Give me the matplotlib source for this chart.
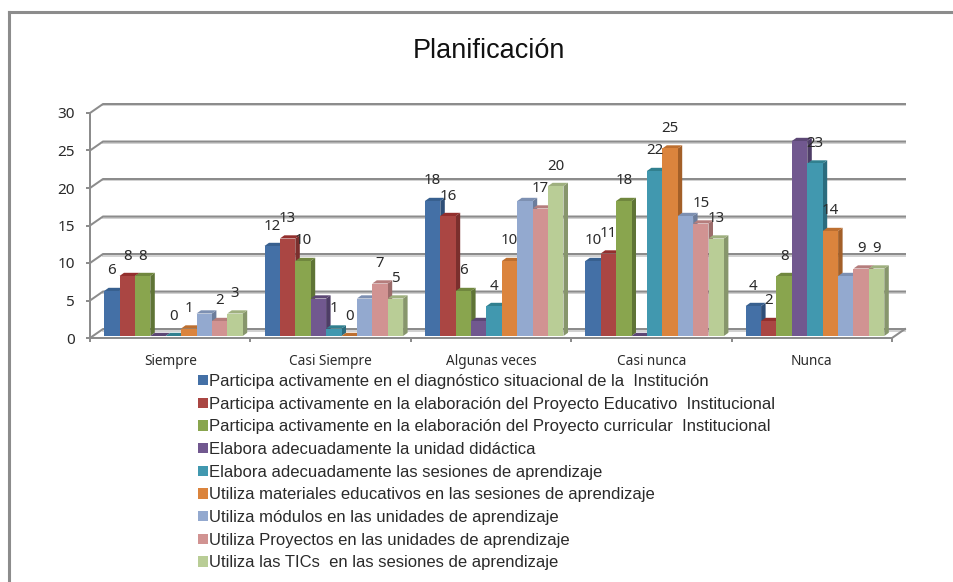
#Planificacion - 3D style clustered columns drawn on a plain 2D axes
import matplotlib
matplotlib.use('Agg')
import matplotlib.pyplot as plt
from matplotlib.lines import Line2D
from matplotlib.patches import Patch

categories = ['Siempre', 'Casi Siempre', 'Algunas veces', 'Casi nunca', 'Nunca']

series_names = ['Participa activamente en el diagnóstico situacional de la  Institución',
'Participa activamente en la elaboración del Proyecto Educativo  Institucional',
'Participa activamente en la elaboración del Proyecto curricular  Institucional',
'Elabora adecuadamente la unidad didáctica',
'Elabora adecuadamente las sesiones de aprendizaje',
'Utiliza materiales educativos en las sesiones de aprendizaje',
'Utiliza módulos en las unidades de aprendizaje',
'Utiliza Proyectos en las unidades de aprendizaje',
'Utiliza las TICs  en las sesiones de aprendizaje']

diagnostico = [6, 12, 18, 10, 4]
educativo = [8, 13, 16, 11, 2]
curricular = [8, 10, 6, 18, 8]
unidad = [0, 5, 2, 0, 26]
sesiones = [0, 1, 4, 22, 23]
materiales = [1, 0, 10, 25, 14]
modulos = [3, 5, 18, 16, 8]
proyectos = [2, 7, 17, 15, 9]
tics = [3, 5, 20, 13, 9]
values = [diagnostico, educativo, curricular, unidad, sesiones, materiales, modulos, proyectos, tics]

#the two series that carry no data labels in the chart
unlabelled = [3, 6]

front = ['#4470A6', '#AA4643', '#89A54E', '#71588F', '#4198AF', '#DB843D', '#93A9CF', '#D19392', '#B9CD96']
side = ['#2F4F78', '#7A2F2D', '#5F7436', '#4E3D66', '#2B6C7E', '#A35F28', '#6C7D9C', '#9C6C6B', '#87966C']
top = ['#38608F', '#932F2D', '#70873E', '#5C4775', '#31808F', '#BD6F30', '#7D90B2', '#B57D7C', '#9FB07F']

W, H = 954, 582
GRID = '#8C8C8C'
SHADOW = '#D2D2D2'
TXT = '#2A2A2A'

fig = plt.figure(figsize=(W / 100, H / 100), dpi=100, facecolor='white')
ax = fig.add_axes([90 / W, 1 - 338 / H, 802 / W, 225 / H])
ax.set_xlim(0, 5)
ax.set_ylim(0, 30)
ax.patch.set_visible(False)

px_x = 5 / 802.0  # one pixel in x data units
px_y = 30 / 225.0  # one pixel in y data units
lw = 2 * 0.72

#frame of the picture, only top and left are visible
for xs, ys in [((9, W), (12, 12)), ((9, 9), (12, H))]:
    fig.add_artist(Line2D([x / W for x in xs], [1 - y / H for y in ys], color=GRID, lw=2.2))

#walls
wall_x = 13 * px_x
wall_y = 9 * px_y
yticks = list(range(0, 31, 5))
for y in yticks:
    ax.plot([wall_x, 5 + wall_x], [y + wall_y - 0.2] * 2, color=SHADOW, lw=lw, clip_on=False, zorder=1)
    ax.plot([0, wall_x, 5 + wall_x], [y, y + wall_y, y + wall_y], color=GRID, lw=lw, clip_on=False, zorder=2)
ax.plot([5, 5 + wall_x], [0, wall_y], color=GRID, lw=lw, clip_on=False, zorder=2)

#columns
bar_w = 15.4 * px_x
shift_x = 3.2 * px_x
base = 2 * px_y
depth_x = 4.5 * px_x
depth_y = 3.2 * px_y
z = 3
for c in range(len(categories)):
    start = c + 0.5 + shift_x - 4.5 * bar_w
    for s in range(len(values)):
        v = values[s][c]
        x0 = start + s * bar_w
        x1 = x0 + bar_w
        y1 = base + v
        ax.fill([x1, x1 + depth_x, x1 + depth_x, x1], [base, base + depth_y, y1 + depth_y, y1],
                color=side[s], lw=0, zorder=z, clip_on=False)
        ax.fill([x0, x0 + depth_x, x1 + depth_x, x1], [y1, y1 + depth_y, y1 + depth_y, y1],
                color=top[s], lw=0, zorder=z, clip_on=False)
        ax.bar(x0, v, width=bar_w, bottom=base, align='edge', color=front[s], lw=0, zorder=z + 1, clip_on=False)
        z += 2
        if s not in unlabelled:
            ax.annotate(str(v), (x0 + bar_w / 2, y1), xytext=(0, 20), textcoords='offset pixels',
                        ha='center', va='center', fontsize=10.8, family='Noto Sans', color=TXT,
                        zorder=200, annotation_clip=False)

#axes
for name in ['top', 'right']:
    ax.spines[name].set_visible(False)
for name in ['left', 'bottom']:
    ax.spines[name].set_color(GRID)
    ax.spines[name].set_linewidth(lw)
    ax.spines[name].set_zorder(2)
ax.set_yticks(yticks)
ax.set_xticks(range(6))
ax.set_xticklabels([])
ax.set_xticks([c + 0.5 for c in range(5)], minor=True)
ax.set_xticklabels(categories, minor=True, fontsize=9.8, family='Noto Sans', color=TXT)
ax.tick_params(axis='x', which='minor', length=0, pad=11.5)
ax.tick_params(axis='x', which='major', length=3, width=lw, color=GRID)
ax.tick_params(axis='y', length=3, width=lw, color=GRID, pad=8, labelsize=11, labelcolor=TXT)
for t in ax.get_yticklabels():
    t.set_family('Noto Sans')

fig.text(488.5 / W, 1 - 58 / H, 'Planificación', ha='center', va='baseline',
         fontsize=19.5, family='Liberation Sans', color='#111111')

#legend
handles = [Patch(facecolor=front[s], edgecolor='none') for s in range(len(series_names))]
fig.legend(handles, series_names, loc='upper left', bbox_to_anchor=(198 / W, 1 - 374 / H),
           frameon=False, ncol=1, prop={'family': 'Liberation Sans', 'size': 12},
           handlelength=0.6, handleheight=0.6, handletextpad=0.05, labelspacing=0.46,
           borderpad=0, borderaxespad=0, labelcolor=TXT)

fig.savefig('out.png', dpi=100)
